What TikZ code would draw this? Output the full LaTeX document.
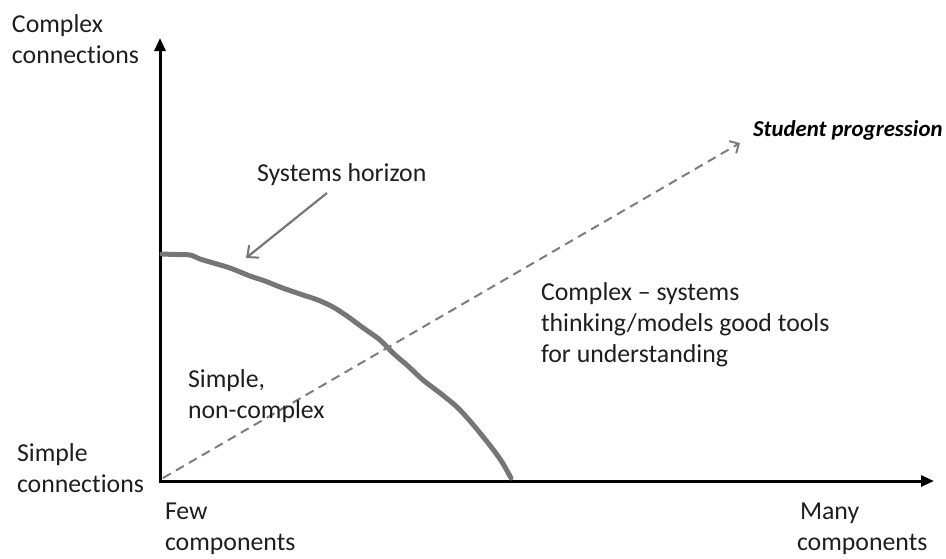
\documentclass[tikz,border=0pt]{standalone}
\usepackage{fontspec}
\setmainfont{Carlito}[RawFeature=-liga]
\usetikzlibrary{arrows.meta}
\definecolor{curvegray}{RGB}{118,118,118}
\definecolor{dashgray}{RGB}{125,125,125}
\definecolor{txt}{RGB}{30,30,30}
\tikzset{
  lbl/.style={inner sep=0pt, outer sep=0pt, text=txt, font=\fontsize{25.8}{31}\selectfont, align=left},
  axis/.style={line width=3pt, black, -{Triangle[length=13pt,width=11pt]}},
  horizon/.style={line width=5pt, curvegray, line cap=round, line join=round},
  progress/.style={line width=2pt, dashgray, dash pattern=on 9pt off 6pt, -{Straight Barb[length=7pt,width=14pt,line width=2pt]}},
  pointer/.style={line width=2.2pt, curvegray, -{Straight Barb[length=9pt,width=16pt,line width=2pt]}}
}
\begin{document}
\begin{tikzpicture}[x=1pt,y=-1pt]
\useasboundingbox (0,0) rectangle (946,558);
% axes
\coordinate (O) at (160,481);
\coordinate (ytip) at (160,38);
\coordinate (xtip) at (934,481);
\draw[axis] ([yshift=-1.5pt]O) -- (ytip);
\draw[axis] ([xshift=-1.5pt]O) -- (xtip);
% axis labels (base anchor = baseline of last line)
\node[lbl, anchor=base west] (cc) at (12,63) {Complex\\connections};
\node[lbl, anchor=base west] (sc) at (17,492) {Simple\\connections};
\node[lbl, anchor=base west] (fc) at (165,550) {Few\\components};
\node[lbl, anchor=base west] (mc) at (797,550) {\hspace*{3pt}Many\\components};
% horizon curve
\draw[horizon] plot[smooth, tension=0.5] coordinates {
 (162,254) (175,254.5) (190,255) (200,259) (210,262) (230,268) (250,276) (265,281) (280,287)
 (300,294) (318,300) (333,307) (347,316) (362,327) (380,340) (393,353) (408,366) (423,380)
 (440,393) (457,407) (470,421) (480,433) (492,448) (502,462) (511,478)};
\coordinate (hz) at (246,258);
% systems horizon label and pointer
\node[lbl, anchor=base west] (sh) at (257,181) {Systems horizon};
\draw[pointer] (327,193) -- (hz);
% student progression
\coordinate (ps) at (163,478);
\coordinate (pe) at (740,143);
\draw[progress] (ps) -- (pe);
\node[lbl, anchor=base west, font=\fontsize{22.8}{26}\selectfont\bfseries\itshape, text=black] (sp) at (753,136) {Student progression};
% region labels
\node[lbl, anchor=base west] (cx) at (541,362) {Complex -- systems\\thinking/models good tools\\for understanding};
\node[lbl, anchor=base west] (sn) at (188,418) {Simple,\\non-complex};
\end{tikzpicture}
\end{document}
